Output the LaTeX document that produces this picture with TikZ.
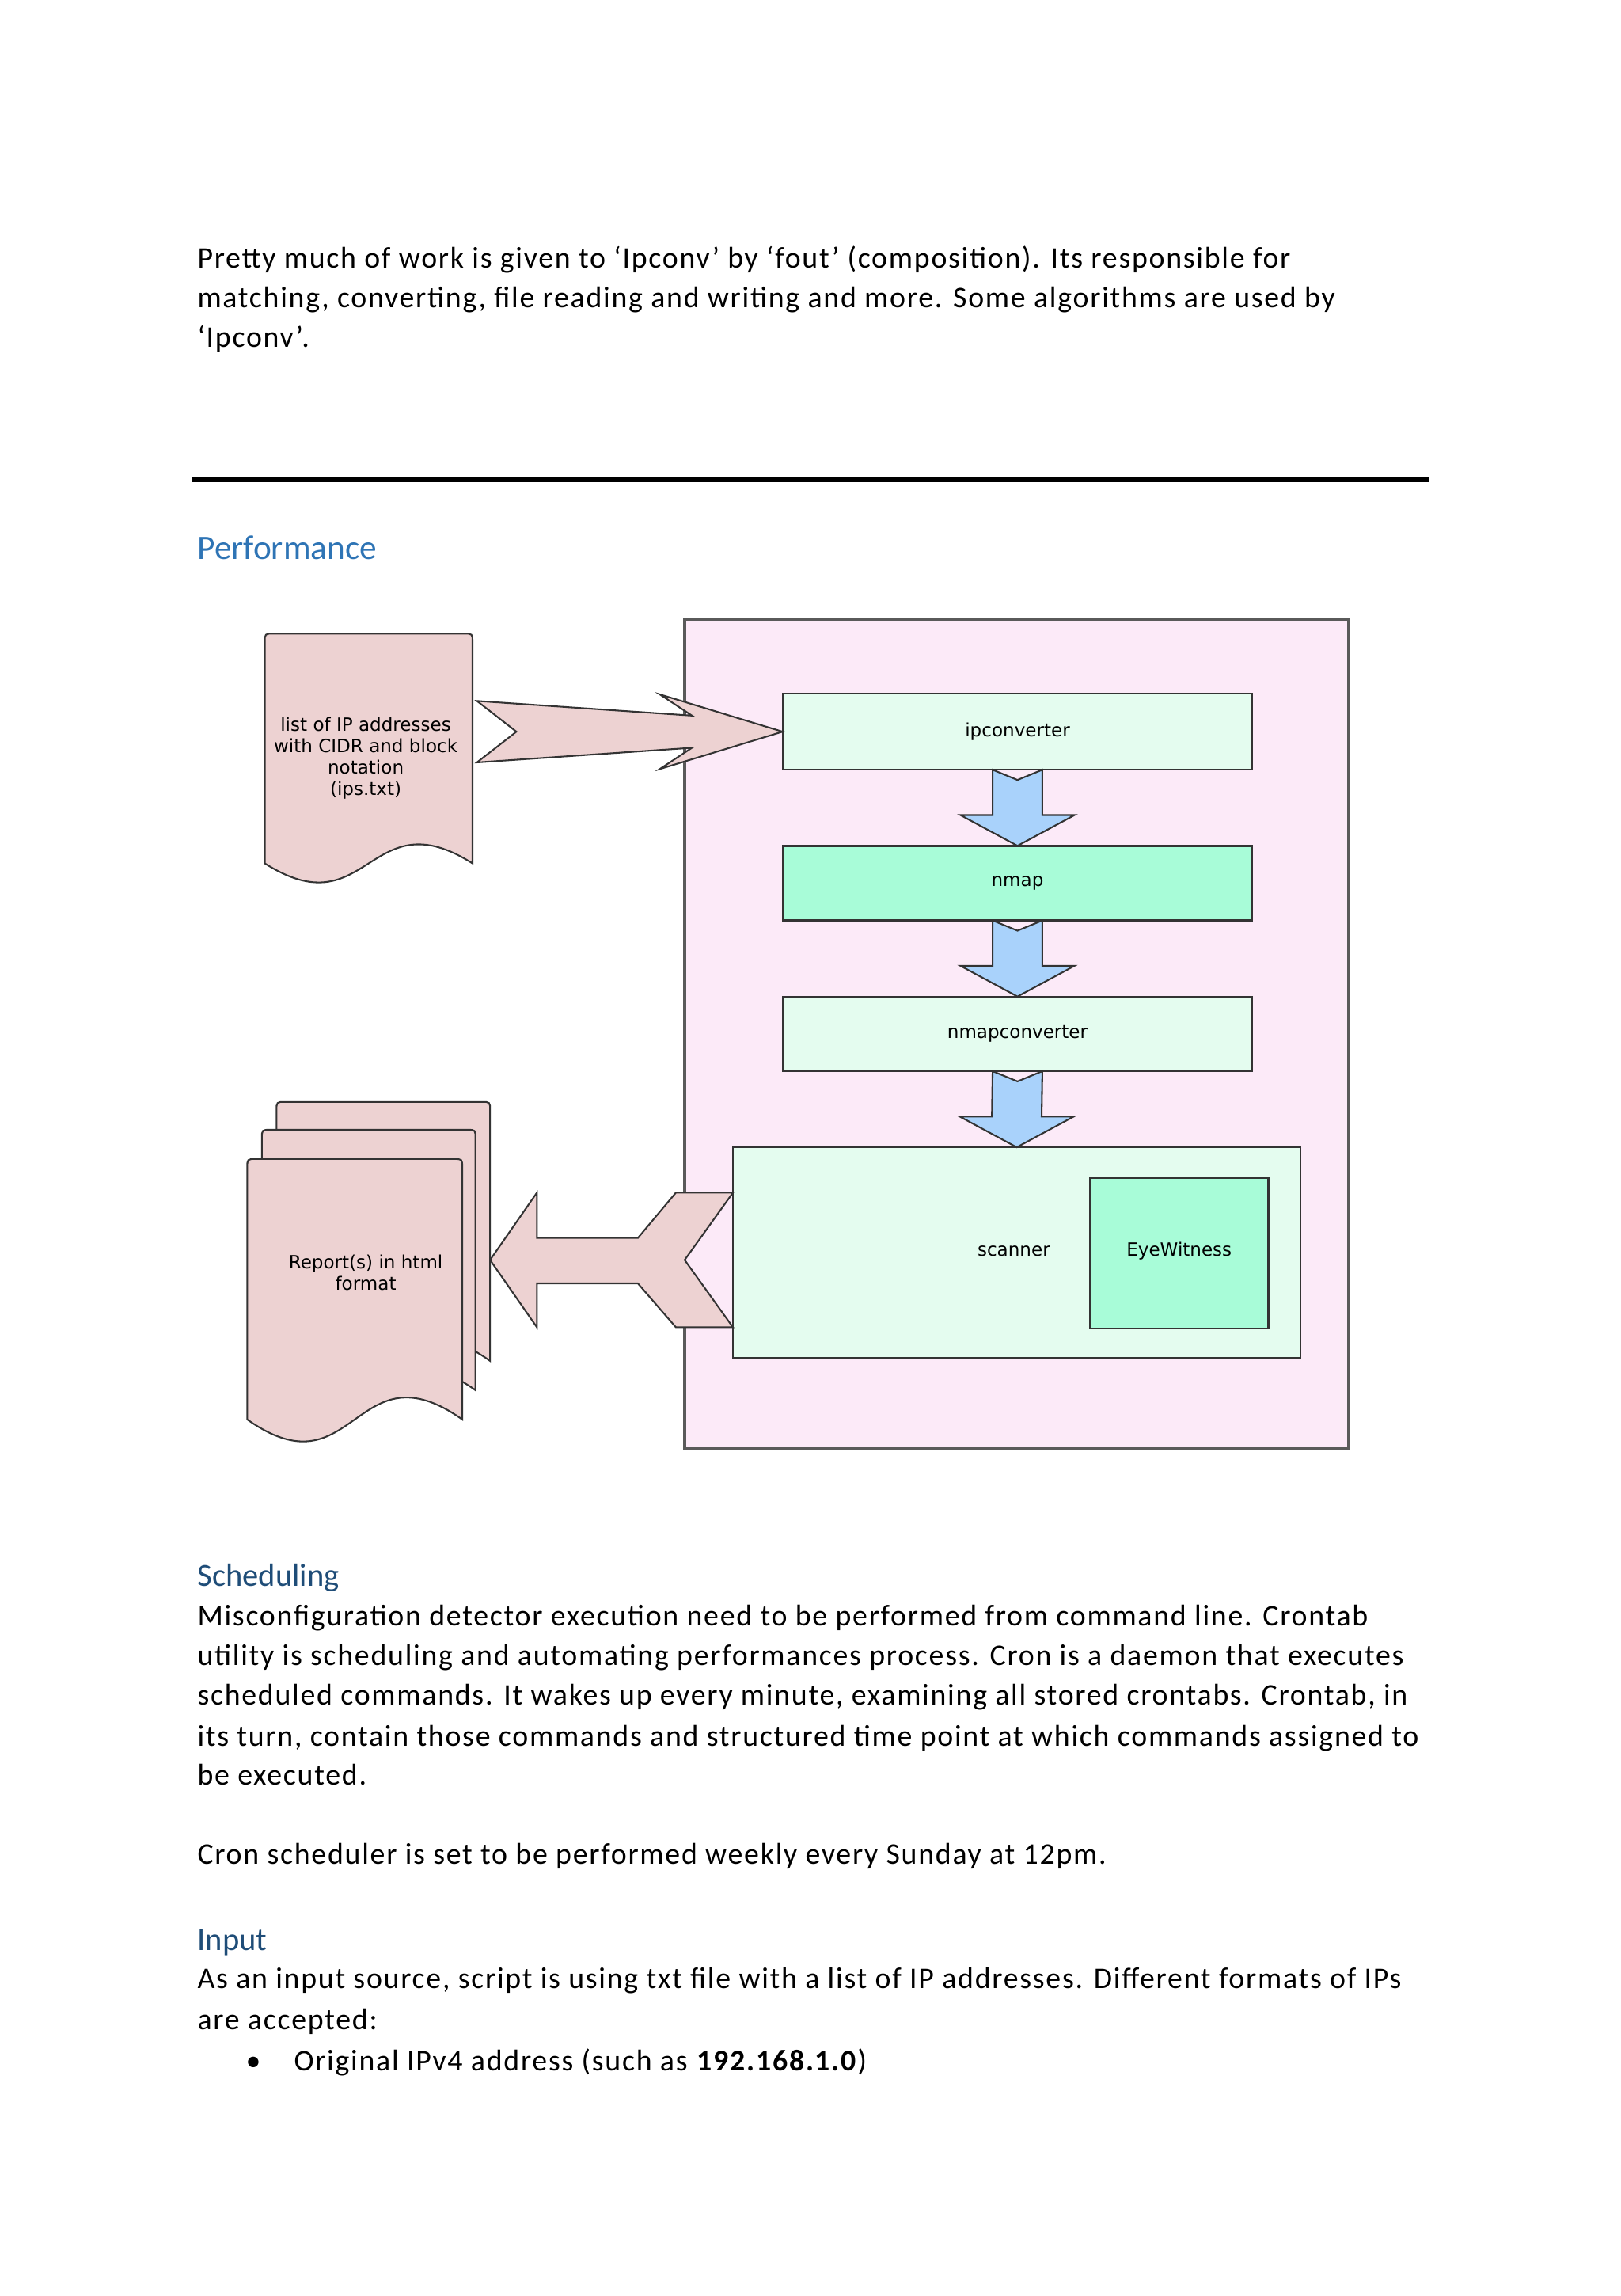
\documentclass[tikz,border=0pt]{standalone}
\usepackage{fontspec}
\setmainfont{Carlito}[LetterSpace=4.6]
\newfontfamily\headfont{Carlito}
\newfontfamily\diagfont{DejaVu Sans}
\usetikzlibrary{calc}
\definecolor{hblue}{HTML}{2E74B5}
\definecolor{hnavy}{HTML}{1F4D78}
\definecolor{contfill}{HTML}{FCEAF8}
\definecolor{lightmint}{HTML}{E4FCEF}
\definecolor{mint}{HTML}{A8FCD8}
\definecolor{docpink}{HTML}{EDD2D2}
\definecolor{arrblue}{HTML}{A9D2FB}
\definecolor{edgegray}{HTML}{333333}
\definecolor{contedge}{HTML}{5A5A5A}
\newcommand\pxu{0.5373pt}
\newcommand\drawdoc[5]{%
  \pgfmathsetmacro\dk{3.47*#5}%
  \filldraw[docshape] (#1,{#2+6}) .. controls (#1,#2) .. ({#1+6},#2) -- ({#1+#3-6},#2) .. controls ({#1+#3},#2) .. ({#1+#3},{#2+6}) -- ({#1+#3},{#2+#4}) .. controls ({#1+0.5*#3},{#2+#4-\dk}) and ({#1+0.5*#3},{#2+#4+\dk}) .. (#1,{#2+#4}) -- cycle;%
}
\begin{document}
\begin{tikzpicture}[x=0.5373pt,y=-0.5373pt,
  body/.style={anchor=base west, inner sep=0pt, outer sep=0pt, font=\fontsize{11}{13}\selectfont},
  htwo/.style={anchor=base west, inner sep=0pt, outer sep=0pt, font=\headfont\fontsize{12.6}{15}\selectfont, text=hblue},
  hthree/.style={anchor=base west, inner sep=0pt, outer sep=0pt, font=\headfont\fontsize{11.8}{14}\selectfont, text=hnavy},
  dfont/.style={font=\diagfont\fontsize{6.7}{7.8}\selectfont},
  box/.style={draw=edgegray, line width=0.7pt, inner sep=0pt, outer sep=0pt, dfont},
  docshape/.style={fill=docpink, draw=edgegray, line width=0.6pt},
  pinkarrow/.style={fill=docpink, draw=edgegray, line width=0.6pt, line join=miter},
  bluearrow/.style={fill=arrblue, draw=edgegray, line width=0.6pt, line join=miter},
  lbl/.style={inner sep=0pt, outer sep=0pt, dfont, align=center}
]
\useasboundingbox (0,0) rectangle (1108,1569);
\fill[white] (0,0) rectangle (1108,1569);

% top paragraph
\node[body] (t1) at (135,183) {Pretty much of work is given to ‘Ipconv’ by ‘fout’ (composition). Its responsible for};
\node[body] (t2) at (135,210) {matching, converting, file reading and writing and more. Some algorithms are used by};
\node[body] (t3) at (135,237) {‘Ipconv’.};

\coordinate (ruleL) at (131,328);
\coordinate (ruleR) at (977,328);
\draw[line width=1.6pt] (ruleL) -- (ruleR);

\node[htwo] (hperf) at (135,382) {Performance};

% diagram
\node[draw=contedge, fill=contfill, line width=1pt, inner sep=0pt, minimum width=454*\pxu, minimum height=567*\pxu] (cont) at (695,706.5) {};

\node[box, fill=lightmint, minimum width=321*\pxu, minimum height=52*\pxu] (ipc) at (695.5,500) {ipconverter};
\node[box, fill=mint, minimum width=321*\pxu, minimum height=51*\pxu] (nmap) at (695.5,603.5) {nmap};
\node[box, fill=lightmint, minimum width=321*\pxu, minimum height=51*\pxu] (nmc) at (695.5,706.5) {nmapconverter};
\node[box, fill=lightmint, minimum width=388*\pxu, minimum height=144*\pxu] (scan) at (695,856) {};
\node[box, fill=mint, minimum width=122*\pxu, minimum height=103*\pxu] (ew) at (806,856.5) {};
\node[lbl] (ewlbl) at (806,855) {EyeWitness};
\node[lbl] (scanlbl) at (693,855) {scanner};

% blue block arrows
\foreach \a/\b in {ipc/nmap, nmap/nmc, nmc/scan}{
  \filldraw[bluearrow] ($(\a.south)+(-17,0)$) -- ($(\a.south)+(0,7)$) -- ($(\a.south)+(17,0)$)
    -- ($(\b.north)+(17,-21)$) -- ($(\b.north)+(39,-21)$) -- (\b.north) -- ($(\b.north)+(-39,-21)$)
    -- ($(\b.north)+(-17,-21)$) -- cycle;
}

% input document
\drawdoc{181}{433}{142}{157}{13}
\node[lbl] (inlist) at (250,518) {list of IP addresses\\with CIDR and block\\notation\\(ips.txt)};

% report documents
\drawdoc{189}{753}{146}{177}{15}
\drawdoc{179}{772}{146}{178}{15}
\drawdoc{169}{792}{147}{178}{15}
\node[lbl] (reports) at (250,869.5) {Report(s) in html\\format};

% pink arrow: input -> ipconverter
\coordinate (a1) at (ipc.west);
\filldraw[pinkarrow] ($(a1)+(-209,-21)$) -- ($(a1)+(-62,-11)$) -- ($(a1)+(-84,-25.5)$) -- (a1)
  -- ($(a1)+(-84,25.5)$) -- ($(a1)+(-62,11)$) -- ($(a1)+(-209,21)$) -- ($(a1)+(-182,0)$) -- cycle;

% pink arrow: scanner -> reports
\coordinate (a2) at (scan.west);
\filldraw[pinkarrow] ($(a2)+(0,-41)$) -- ($(a2)+(-33,5)$) -- ($(a2)+(0,51)$) -- ($(a2)+(-39,51)$)
  -- ($(a2)+(-65,21)$) -- ($(a2)+(-134,21)$) -- ($(a2)+(-134,51)$) -- ($(a2)+(-166,5)$)
  -- ($(a2)+(-134,-41)$) -- ($(a2)+(-134,-10)$) -- ($(a2)+(-65,-10)$) -- ($(a2)+(-39,-41)$) -- cycle;

% Scheduling
\node[hthree] (hsched) at (135,1084) {Scheduling};
\node[body] (s1) at (135,1111) {Misconfiguration detector execution need to be performed  from command  line. Crontab};
\node[body] (s2) at (135,1138) {utility is scheduling and automating  performances  process. Cron is a daemon that executes};
\node[body] (s3) at (135,1165) {scheduled commands.  It wakes up every minute,  examining all stored crontabs.  Crontab,  in};
\node[body] (s4) at (135,1193) {its turn,  contain those commands  and structured  time point at which commands  assigned to};
\node[body] (s5) at (135,1220) {be executed.};
\node[body] (s6) at (135,1274) {Cron scheduler is set to be performed  weekly every Sunday at 12pm.};

% Input
\node[hthree] (hinput) at (135,1333) {Input};
\node[body] (i1) at (135,1359) {As an input source, script is using txt file with a list of IP addresses. Different formats of IPs};
\node[body] (i2) at (135,1387) {are accepted:};
\node[body] (bul) at (168,1415) {•};
\node[body] (i3) at (201,1415) {Original IPv4 address (such as \textbf{192.168.1.0})};
\end{tikzpicture}
\end{document}
